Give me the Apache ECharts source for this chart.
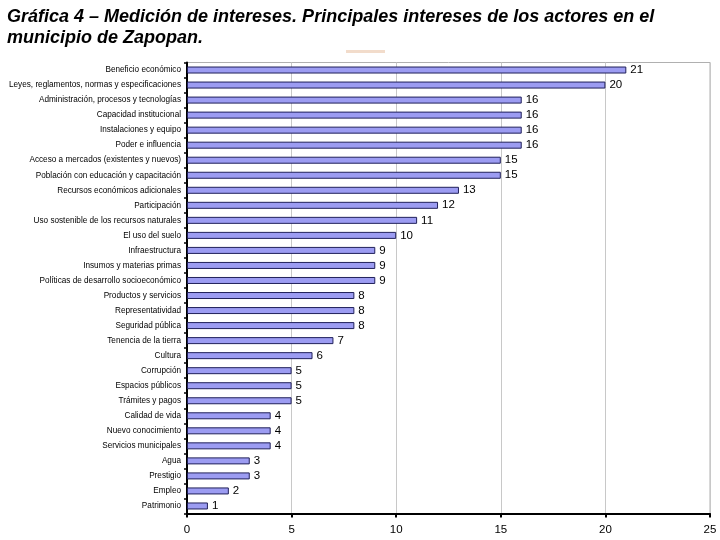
<!DOCTYPE html>
<html><head><meta charset="utf-8">
<script src="https://cdn.jsdelivr.net/npm/echarts@6/dist/echarts.min.js"></script>
<style>html,body{margin:0;padding:0;background:#fff}#c{width:720px;height:540px}</style>
</head><body><div id="c"></div>
<script>
const categories = ["Beneficio económico","Leyes, reglamentos, normas y especificaciones","Administración, procesos y tecnologías","Capacidad institucional","Instalaciones y equipo","Poder e influencia","Acceso a mercados (existentes y nuevos)","Población con educación y capacitación","Recursos económicos adicionales","Participación","Uso sostenible de los recursos naturales","El uso del suelo","Infraestructura","Insumos y materias primas","Políticas de desarrollo socioeconómico","Productos y servicios","Representatividad","Seguridad pública","Tenencia de la tierra","Cultura","Corrupción","Espacios públicos","Trámites y pagos","Calidad de vida","Nuevo conocimiento","Servicios municipales","Agua","Prestigio","Empleo","Patrimonio"];
const values = [21,20,16,16,16,16,15,15,13,12,11,10,9,9,9,8,8,8,7,6,5,5,5,4,4,4,3,3,2,1];
const xTicks = [0,5,10,15,20,25];
const FONT = 'Liberation Sans, Arial, sans-serif';

const chart = echarts.init(document.getElementById('c'));
chart.setOption({
  animation:false,
  backgroundColor:'#fff',
  title:{
    text:'Gráfica 4 – Medición de intereses. Principales intereses de los actores en el\nmunicipio de Zapopan.',
    left:2, top:2,
    textStyle:{fontFamily:FONT,fontSize:18,fontWeight:'bold',fontStyle:'italic',color:'#000',lineHeight:21}
  },
  graphic:[{type:'rect',shape:{x:346,y:50,width:39,height:3},style:{fill:'#f2dccb'}}],
  grid:{left:187,right:10,top:62.5,bottom:26.5,show:true,borderColor:'#b0b0b0',borderWidth:1,containLabel:false,outerBoundsMode:'none'},
  xAxis:{
    type:'value',min:0,max:25,interval:5,
    axisLine:{show:true,lineStyle:{color:'#000',width:2}},
    axisTick:{show:true,length:4,lineStyle:{color:'#000',width:2}},
    axisLabel:{fontFamily:FONT,fontSize:11.5,color:'#000',margin:10,
      formatter:v=>xTicks.includes(v)?String(v):''},
    splitLine:{show:true,lineStyle:{color:'#c8c8c8',width:1}}
  },
  yAxis:{
    type:'category',data:categories,inverse:true,
    axisLine:{show:true,lineStyle:{color:'#000',width:2}},
    axisTick:{show:true,length:3,lineStyle:{color:'#000',width:1.5}},
    axisLabel:{fontFamily:FONT,fontSize:8.2,color:'#000',margin:6},
    splitLine:{show:false}
  },
  series:[{
    type:'bar',data:values,barWidth:7,
    itemStyle:{color:'#9c9cf2',borderColor:'#20205a',borderWidth:1},
    label:{show:true,position:'right',distance:4,fontFamily:FONT,fontSize:11.5,color:'#000'}
  }]
});
</script></body></html>
